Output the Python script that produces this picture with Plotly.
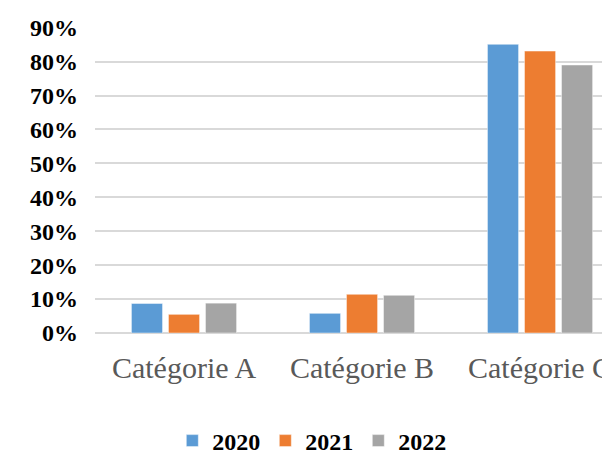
import plotly.graph_objects as go

categories = ["Catégorie A", "Catégorie B", "Catégorie C"]
years = ["2020", "2021", "2022"]
values_2020 = [0.087, 0.058, 0.851]
values_2021 = [0.055, 0.114, 0.831]
values_2022 = [0.088, 0.111, 0.790]
colors = ["#5B9BD5", "#ED7D31", "#A5A5A5"]

SERIF = "Liberation Serif, Times New Roman, serif"

fig = go.Figure()
for year, vals, col in zip(years, [values_2020, values_2021, values_2022], colors):
    fig.add_trace(go.Bar(
        x=categories, y=vals, name="<b>" + year + "</b>",
        marker_color=col,
        marker_line=dict(color="rgba(255,255,255,0.45)", width=1),
    ))

# the page body has an 8px margin, so the figure is sized to sit inside the window
fig.update_layout(
    width=602, height=443,
    margin=dict(l=87, r=0, t=19, b=118, autoexpand=False),
    paper_bgcolor="white", plot_bgcolor="white",
    barmode="group", bargap=0.376, bargroupgap=0.16,
    font=dict(family=SERIF, color="#000000"),
    showlegend=True,
    legend=dict(
        orientation="h", x=0.421, xanchor="center", y=-0.353, yanchor="middle",
        font=dict(family=SERIF, size=24, color="#000000"),
        traceorder="normal",
    ),
)

fig.update_xaxes(
    range=[-0.5, 2.393], automargin=False,
    showgrid=False, showline=False, zeroline=False,
    tickfont=dict(family=SERIF, size=30, color="#595959"),
    ticklabelstandoff=14,
)

fig.update_yaxes(
    range=[0, 0.902], automargin=False,
    tickvals=[0, 0.1, 0.2, 0.3, 0.4, 0.5, 0.6, 0.7, 0.8, 0.9],
    tickformat=".0%",
    showgrid=True, gridcolor="#D9D9D9", gridwidth=1.5,
    zeroline=True, zerolinecolor="#D9D9D9", zerolinewidth=1.5,
    showline=False,
    tickfont=dict(family=SERIF, size=24, color="#000000", weight="bold"),
    ticklabelstandoff=16,
)

fig.write_html("out.html")
